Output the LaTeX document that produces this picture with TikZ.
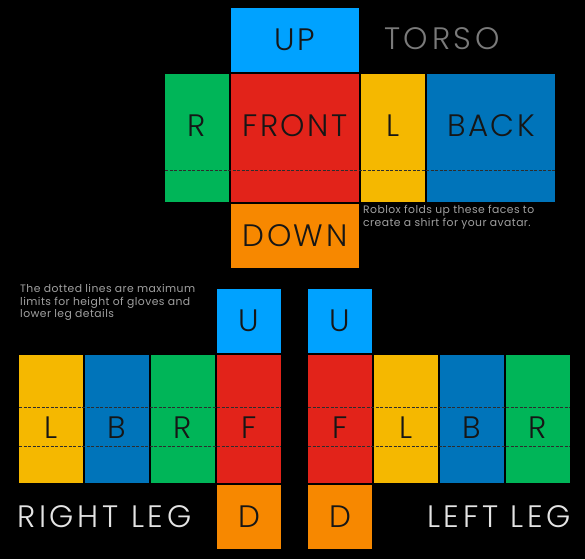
\documentclass[tikz,border=0pt]{standalone}
\usepackage{fontspec}
\setmainfont{Poppins}
\IfFontExistsTF{Poppins Light}{\newfontfamily\thinfont{Poppins Light}}{\newfontfamily\thinfont{Poppins}}
\usepackage{tikz}
\usetikzlibrary{positioning}
\definecolor{RBXsky}{HTML}{00A2FF}
\definecolor{RBXred}{HTML}{E2231A}
\definecolor{RBXyellow}{HTML}{F5B800}
\definecolor{RBXblue}{HTML}{0074BA}
\definecolor{RBXgreen}{HTML}{00B558}
\definecolor{RBXorange}{HTML}{F78800}
\definecolor{RBXink}{HTML}{161616}
\definecolor{RBXgrey}{HTML}{7A7A7A}
\definecolor{RBXnote}{HTML}{A0A0A0}
\definecolor{RBXwhite}{HTML}{E4E4E4}
\tikzset{
  face/.style={inner sep=0pt, outer sep=0pt, text=RBXink, font=\thinfont\fontsize{31}{31}\selectfont\addfontfeatures{LetterSpace=8}, text height=21.5pt, text depth=0pt},
  torsoface/.style={face, minimum height=128pt, text depth=24.5pt},
  legface/.style={face, minimum width=64pt, minimum height=128pt, text height=39.5pt},
  capface/.style={face, minimum height=64pt},
  limitline/.style={draw=RBXink!90, line width=0.7pt, dash pattern=on 3pt off 1.5pt},
  notetext/.style={inner sep=0pt, align=left, text=RBXnote, font=\fontsize{10.8}{12.7}\selectfont\addfontfeatures{LetterSpace=4}},
  parttitle/.style={inner sep=0pt, font=\thinfont\fontsize{31}{31}\selectfont\addfontfeatures{LetterSpace=12}}
}

\begin{document}
\begin{tikzpicture}[x=1pt, y=-1pt, node distance=2pt]
\fill[black] (0,0) rectangle (585,559);
% torso
\node[torsoface, minimum width=128pt, fill=RBXred] (front) at (295,138) {FRONT};
\node[capface, minimum width=128pt, fill=RBXsky, above=of front] (up) {UP};
\node[capface, minimum width=128pt, fill=RBXorange, below=of front] (down) {DOWN};
\node[torsoface, minimum width=64pt, fill=RBXgreen, left=of front] (tr) {R};
\node[torsoface, minimum width=64pt, fill=RBXyellow, right=of front] (tl) {L};
\node[torsoface, minimum width=128pt, fill=RBXblue, right=of tl] (back) {BACK};
\draw[limitline] ([yshift=32pt]tr.south west) -- ([yshift=32pt]back.south east);
\node[parttitle, text=RBXgrey] (torso) at (442,39) {TORSO};
\node[notetext, anchor=north west] (fold) at (363,205) {Roblox folds up these faces to\\create a shirt for your avatar.};
% right leg
\node[legface, fill=RBXred] (rf) at (249,419) {F};
\node[legface, fill=RBXgreen, left=of rf] (rr) {R};
\node[legface, fill=RBXblue, left=of rr] (rb) {B};
\node[legface, fill=RBXyellow, left=of rb] (rl) {L};
\node[capface, minimum width=64pt, fill=RBXsky, above=of rf] (ru) {U};
\node[capface, minimum width=64pt, fill=RBXorange, below=of rf] (rd) {D};
\draw[limitline] ([yshift=-52pt]rl.north west) -- ([yshift=-52pt]rf.north east);
\draw[limitline] ([yshift=-91pt]rl.north west) -- ([yshift=-91pt]rf.north east);
% left leg
\node[legface, fill=RBXred] (lf) at (340,419) {F};
\node[legface, fill=RBXyellow, right=of lf] (ll) {L};
\node[legface, fill=RBXblue, right=of ll] (lb) {B};
\node[legface, fill=RBXgreen, right=of lb] (lr) {R};
\node[capface, minimum width=64pt, fill=RBXsky, above=of lf] (lu) {U};
\node[capface, minimum width=64pt, fill=RBXorange, below=of lf] (ld) {D};
\draw[limitline] ([yshift=-52pt]lf.north west) -- ([yshift=-52pt]lr.north east);
\draw[limitline] ([yshift=-91pt]lf.north west) -- ([yshift=-91pt]lr.north east);
% titles
\node[notetext, anchor=north west] (limits) at (20,284) {The dotted lines are maximum\\limits for height of gloves and\\lower leg details};
\node[parttitle, text=RBXwhite, anchor=west] (rightleg) at (17,517) {RIGHT LEG};
\node[parttitle, text=RBXwhite, anchor=east] (leftleg) at (571,517) {LEFT LEG};
\end{tikzpicture}
\end{document}
